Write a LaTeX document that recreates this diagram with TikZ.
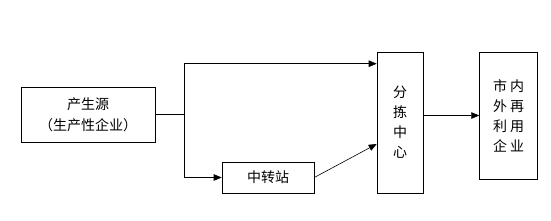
\documentclass[tikz,border=0pt]{standalone}
\usepackage{fontspec}
\setmainfont{Noto Sans CJK SC}
\usepackage{tikz}
\usetikzlibrary{positioning,arrows.meta}

\begin{document}
\begin{tikzpicture}[x=1pt,y=1pt,>={Triangle[length=8pt,width=6.5pt]}]
  \tikzstyle{box}=[draw,line width=0.6pt,inner sep=0pt,align=center,
    font=\fontsize{14}{21}\selectfont]
  \tikzstyle{flow}=[->,line width=0.6pt]
  \useasboundingbox (0,0) rectangle (551,220);
  \node[box,minimum width=134pt,minimum height=55pt] (source) at (88,105.5)
    {产生源\\（生产性企业）};
  \node[box,minimum width=46pt,minimum height=141pt,
    font=\fontsize{14}{20}\selectfont] (sorting) at (400,97.5)
    {分\\拣\\中\\心};
  \node[box,minimum width=58pt,minimum height=127pt,anchor=north west,
    font=\fontsize{14}{20}\selectfont] (reuse)
    at ([xshift=56pt]sorting.north east)
    {市\hspace{3pt}内\\外\hspace{3pt}再\\利\hspace{3pt}用\\企\hspace{3pt}业};
  \node[box,minimum width=92pt,minimum height=31pt] (transfer) at (268,42.5)
    {中转站};
  % branch point
  \coordinate[right=29pt of source.east] (split);
  \draw[line width=0.6pt] (source.east) -- (split);
  \draw[flow] (split) |- ([yshift=-12pt]sorting.north west);
  \draw[flow] (split) |- (transfer.west);
  \draw[flow] (transfer.east) -- ([yshift=-21.5pt]sorting.west);
  \draw[flow] (reuse.west -| sorting.east) -- (reuse.west);
\end{tikzpicture}
\end{document}
